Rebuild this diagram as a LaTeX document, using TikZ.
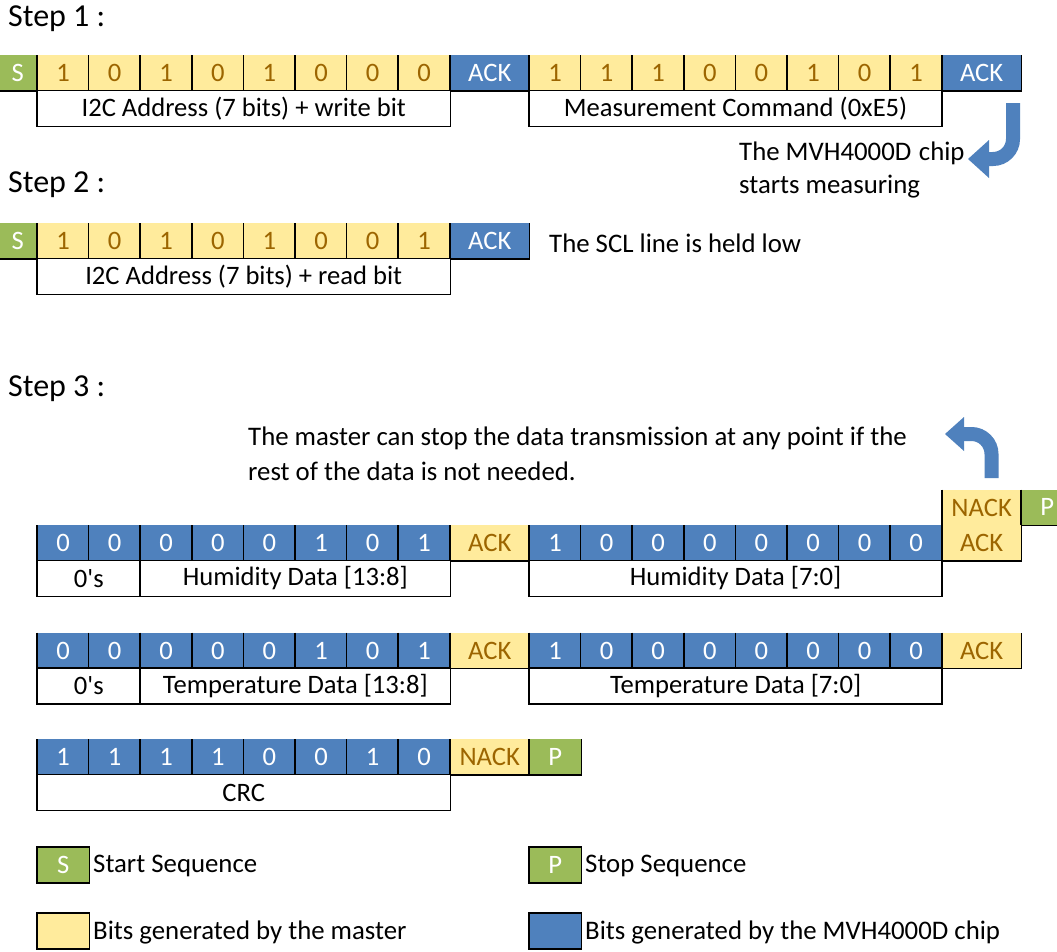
\documentclass[tikz,border=0pt]{standalone}
\usepackage{fontspec}
\setmainfont{Carlito}
\definecolor{cgreen}{HTML}{9BBB59}
\definecolor{cyellow}{HTML}{FFEB9C}
\definecolor{cblue}{HTML}{4F81BD}
\definecolor{cgold}{HTML}{9C6500}
\tikzset{
  cell/.style={rectangle, inner sep=0pt, minimum height=35.5pt, anchor=north west, font=\fontsize{26.6}{30}\selectfont},
  ybit/.style={cell, fill=cyellow, text=cgold},
  bbit/.style={cell, fill=cblue, text=white},
  gbit/.style={cell, fill=cgreen, text=white},
  wbit/.style={cell, fill=white, text=black},
  edges/.style={draw=black, line width=1.6pt},
  txt/.style={anchor=west, inner sep=0pt, font=\fontsize{26.8}{30}\selectfont},
  steptxt/.style={anchor=west, inner sep=0pt, font=\fontsize{32}{38}\selectfont},
  bent/.style={draw=cblue, line width=14pt},
  headfill/.style={fill=cblue},
}
\newcommand\cellat[6]{%
  \node[#2, minimum width=#5pt] (#1) at (#3,#4) {#6};
  \draw[edges] (#1.north west) -- (#1.south west) -- (#1.south east) -- (#1.north east);
}
\newcommand\boxat[6]{%
  \node[#2, minimum width=#5pt] (#1) at (#3,#4) {#6};
  \draw[edges] (#1.north west) rectangle (#1.south east);
}
\newcommand\bitsrow[5]{%
  \foreach \b [count=\i] in {#5} {%
    \pgfmathsetmacro\xx{#3+(\i-1)*51.6}%
    \cellat{#1\i}{#2}{\xx}{#4}{51.6}{\b}%
  }%
}
\begin{document}
\begin{tikzpicture}[x=1pt,y=-1pt]
\clip (0,0) rectangle (1057,951);
\fill[white] (0,0) rectangle (1057,951);

% ---------- Step 1
\node[steptxt] (st1) at (8,19) {Step 1 :};
\cellat{s1s}{gbit}{-2}{55}{39}{S}
\bitsrow{s1a}{ybit}{37}{55}{1,0,1,0,1,0,0,0}
\cellat{s1ack}{bbit}{450}{55}{79}{ACK}
\bitsrow{s1b}{ybit}{529}{55}{1,1,1,0,0,1,0,1}
\cellat{s1ackb}{bbit}{941.8}{55}{79.2}{ACK}
\boxat{s1la}{wbit}{37}{90.5}{413}{I2C Address (7 bits) + write bit}
\boxat{s1lb}{wbit}{529}{90.5}{412.8}{Measurement Command (0xE5)}

\node[txt] (m1) at (739,153) {The MVH4000D\hspace{1.5pt} chip};
\node[txt] (m2) at (739,187) {starts measuring};
\coordinate (a1top) at (1013,103);
\coordinate (a1mid) at (1013,159);
\coordinate (a1end) at (987,159);
\draw[bent, rounded corners=20pt] (a1top) -- (a1mid) -- (a1end);
\fill[headfill] (989,140) -- (968,159) -- (989,178) -- cycle;

% ---------- Step 2
\node[steptxt] (st2) at (8,185) {Step 2 :};
\cellat{s2s}{gbit}{-2}{223}{39}{S}
\bitsrow{s2a}{ybit}{37}{223}{1,0,1,0,1,0,0,1}
\cellat{s2ack}{bbit}{450}{223}{79}{ACK}
\boxat{s2la}{wbit}{37}{258.5}{413}{I2C Address (7 bits) + read bit}
\node[txt] (scl) at (549,243) {The SCL line is held low};

% ---------- Step 3
\node[steptxt] (st3) at (8,389) {Step 3 :};
\node[txt] (n1) at (248,438) {The master can stop the data transmission at any point if the};
\node[txt] (n2) at (248,471) {rest of the data is not needed.};
\coordinate (a2bot) at (991.5,478);
\coordinate (a2mid) at (991.5,434);
\coordinate (a2end) at (962,434);
\draw[bent, rounded corners=20pt] (a2bot) -- (a2mid) -- (a2end);
\fill[headfill] (964,417) -- (945,434) -- (964,451) -- cycle;

\cellat{r0nack}{ybit}{941.8}{489.5}{79.2}{NACK}
\cellat{r0p}{gbit}{1021}{489.5}{52}{P}

% row 1
\bitsrow{r1a}{bbit}{37}{525}{0,0,0,0,0,1,0,1}
\cellat{r1ack}{ybit}{450}{525}{79}{ACK}
\bitsrow{r1b}{bbit}{529}{525}{1,0,0,0,0,0,0,0}
\cellat{r1ackb}{ybit}{941.8}{525}{79.2}{ACK}
\boxat{r1l0}{wbit}{37}{560.5}{103.2}{0\textquotesingle s}
\boxat{r1l1}{wbit}{140.2}{560.5}{309.8}{Humidity Data [13:8]}
\boxat{r1l2}{wbit}{529}{560.5}{412.8}{Humidity Data [7:0]}

% row 2
\bitsrow{r2a}{bbit}{37}{632.5}{0,0,0,0,0,1,0,1}
\cellat{r2ack}{ybit}{450}{632.5}{79}{ACK}
\bitsrow{r2b}{bbit}{529}{632.5}{1,0,0,0,0,0,0,0}
\cellat{r2ackb}{ybit}{941.8}{632.5}{79.2}{ACK}
\boxat{r2l0}{wbit}{37}{668}{103.2}{0\textquotesingle s}
\boxat{r2l1}{wbit}{140.2}{668}{309.8}{Temperature Data [13:8]}
\boxat{r2l2}{wbit}{529}{668}{412.8}{Temperature Data [7:0]}

% row 3
\bitsrow{r3a}{bbit}{37}{739}{1,1,1,1,0,0,1,0}
\cellat{r3nack}{ybit}{450}{739}{79}{NACK}
\cellat{r3p}{gbit}{529}{739}{52}{P}
\boxat{r3l}{wbit}{37}{774.5}{413}{CRC}

% ---------- Legend
\boxat{lgs}{gbit}{37}{847}{52}{S}
\node[txt] (lgst) at (93,866) {Start Sequence};
\boxat{lgp}{gbit}{529}{847}{52}{P}
\node[txt] (lgpt) at (585,866) {Stop Sequence};
\boxat{lgy}{ybit}{37}{913}{52}{}
\node[txt] (lgyt) at (93,932) {Bits generated by the master};
\boxat{lgb}{bbit}{529}{913}{52}{}
\node[txt] (lgbt) at (585,932) {Bits generated by the MVH4000D chip};
\end{tikzpicture}
\end{document}
